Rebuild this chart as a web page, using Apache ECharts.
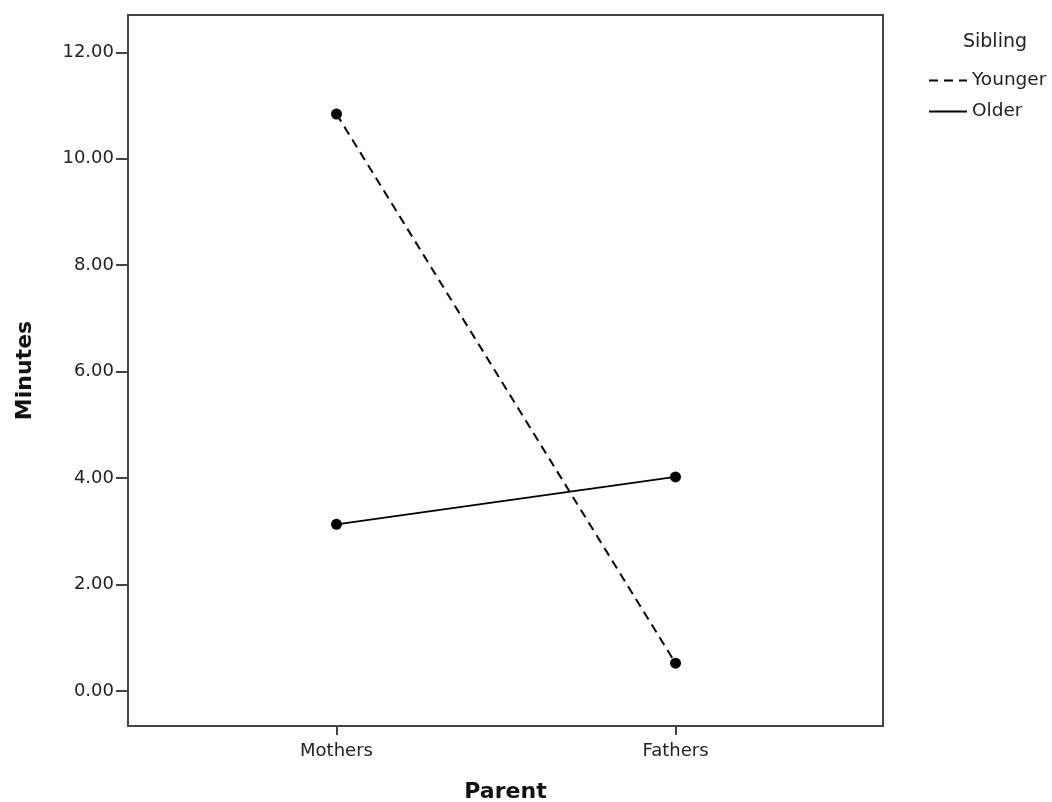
<!DOCTYPE html>
<html>
<head>
<meta charset="utf-8">
<script src="https://cdn.jsdelivr.net/npm/echarts@6/dist/echarts.min.js"></script>
<style>html,body{margin:0;padding:0;background:#fff}#c{width:1052px;height:802px}</style>
</head>
<body>
<div id="c"></div>
<script>
const categories = ['Mothers', 'Fathers'];
const younger = [10.84, 0.52];
const older = [3.13, 4.02];
const yTicks = [0, 2, 4, 6, 8, 10, 12];
const seriesNames = ['Younger', 'Older'];

const chart = echarts.init(document.getElementById('c'));
const FONT = 'DejaVu Sans';
const AX = '#444';
const toPts = arr => arr.map((v, i) => [i, v]);

chart.setOption({
  animation: false,
  backgroundColor: '#fff',
  title: {
    text: 'Sibling', left: 990, top: 28, textAlign: 'center',
    textStyle: { fontFamily: FONT, fontSize: 19, fontWeight: 'normal', color: '#222' }
  },
  legend: {
    data: seriesNames, orient: 'vertical', left: 928, top: 71, padding: 0,
    itemWidth: 38, itemHeight: 16, itemGap: 12,
    itemStyle: { opacity: 0 },
    textStyle: { fontFamily: FONT, fontSize: 18.5, color: '#222' }
  },
  grid: {
    left: 128, right: 169, top: 15, bottom: 76,
    show: true, borderColor: AX, borderWidth: 2, containLabel: false,
    outerBoundsMode: 'none'
  },
  xAxis: {
    type: 'value', min: -0.615, max: 1.612,
    name: 'Parent', nameLocation: 'middle', nameGap: 55,
    nameTextStyle: { fontFamily: FONT, fontSize: 22, fontWeight: 'bold', color: '#111' },
    axisLine: { show: true, onZero: false, lineStyle: { color: AX, width: 2 } },
    axisTick: { show: true, length: 9, customValues: [0, 1], lineStyle: { color: AX, width: 2 } },
    axisLabel: {
      customValues: [0, 1], margin: 16,
      formatter: v => categories[Math.round(v)] || '',
      fontFamily: FONT, fontSize: 18, color: '#222'
    },
    splitLine: { show: false }
  },
  yAxis: {
    type: 'value', min: -0.66, max: 12.70,
    name: 'Minutes', nameLocation: 'middle', nameGap: 92, nameRotate: 90,
    nameTextStyle: { fontFamily: FONT, fontSize: 22, fontWeight: 'bold', color: '#111' },
    axisLine: { show: true, onZero: false, lineStyle: { color: AX, width: 2 } },
    axisTick: { show: true, length: 12, customValues: yTicks, lineStyle: { color: AX, width: 2 } },
    axisLabel: {
      customValues: yTicks, margin: 14,
      formatter: v => v.toFixed(2),
      fontFamily: FONT, fontSize: 18, color: '#222'
    },
    splitLine: { show: false }
  },
  series: [
    {
      name: seriesNames[0], type: 'line', data: toPts(younger),
      symbol: 'circle', symbolSize: 11,
      lineStyle: { color: '#000', width: 2, type: [9, 6] },
      itemStyle: { color: '#000' }
    },
    {
      name: seriesNames[1], type: 'line', data: toPts(older),
      symbol: 'circle', symbolSize: 11,
      lineStyle: { color: '#000', width: 1.8, type: 'solid' },
      itemStyle: { color: '#000' }
    }
  ]
});
</script>
</body>
</html>
